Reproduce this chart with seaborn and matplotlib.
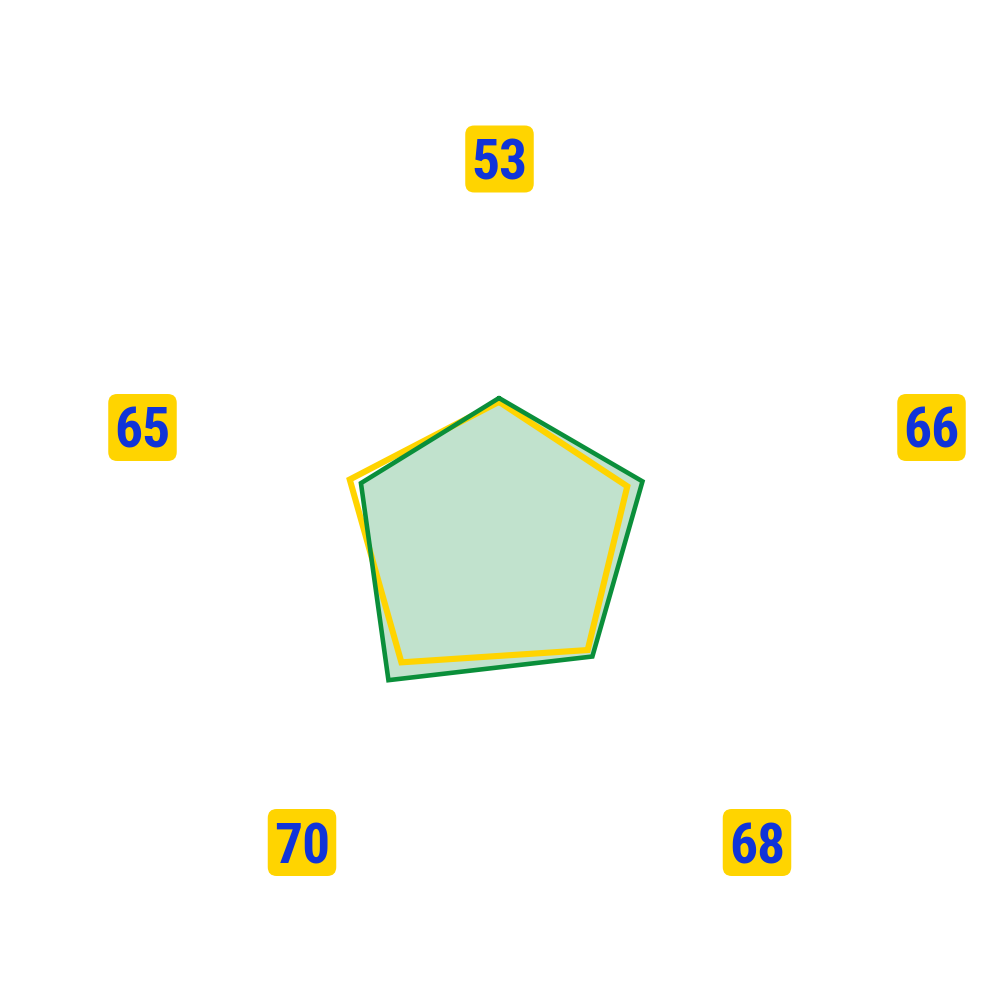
import numpy as np
import pandas as pd
import matplotlib
matplotlib.use("Agg")
import matplotlib.pyplot as plt
import seaborn as sns
from matplotlib import font_manager
from matplotlib.font_manager import FontProperties
from matplotlib.patches import FancyBboxPatch

# ---------------- data ----------------
categories = ["53", "66", "68", "70", "65"]
series_names = ["Yellow", "Green"]
yellow_values = [33.2, 35.5, 39.7, 43.7, 41.3]
green_values = [34.2, 39.7, 41.8, 49.5, 38.2]

# ---------------- style ----------------
YELLOW = "#FFD400"
GREEN = "#0A8F3A"
BLUE = "#1034D8"

sns.set_theme(style="white")
plt.rcParams["font.family"] = ["DejaVu Sans"]

# pick the narrowest bold font available
def pick_font():
    entries = font_manager.fontManager.ttflist
    prefs = [
        ("Roboto Condensed", None),
        ("Liberation Sans Narrow", None),
        ("DejaVu Sans", "Condensed"),
    ]
    for fam, key in prefs:
        for f in entries:
            if f.name != fam:
                continue
            if "Italic" in f.fname or "Oblique" in f.fname:
                continue
            if key is not None and key not in f.fname:
                continue
            if "Bold" in f.fname or f.weight in ("bold", 700):
                return FontProperties(fname=f.fname)
    return FontProperties(family="DejaVu Sans", weight="bold")

label_font = pick_font()

# ---------------- figure ----------------
fig = plt.figure(figsize=(10, 10), dpi=100)
ax = fig.add_axes([0.119, 0.092, 0.76, 0.76], projection="polar")
ax.set_theta_offset(np.pi / 2)
ax.set_theta_direction(-1)
ax.set_ylim(0, 100)

n = len(categories)
angles = np.linspace(0, 2 * np.pi, n, endpoint=False)

def closed_frame(values, name):
    th = list(angles) + [2 * np.pi]
    vals = list(values) + [values[0]]
    return pd.DataFrame({"theta": th, "value": vals, "series": name})

df_y = closed_frame(yellow_values, series_names[0])
df_g = closed_frame(green_values, series_names[1])

# green fill
ax.fill(df_g["theta"], df_g["value"], color=GREEN, alpha=0.25, linewidth=0, zorder=1)
# yellow outline
sns.lineplot(data=df_y, x="theta", y="value", sort=False, estimator=None,
             color=YELLOW, linewidth=4.4, ax=ax, zorder=2,
             solid_joinstyle="miter", legend=False)
# green outline
sns.lineplot(data=df_g, x="theta", y="value", sort=False, estimator=None,
             color=GREEN, linewidth=3.3, ax=ax, zorder=3,
             solid_joinstyle="miter", legend=False)

ax.axis("off")

# ---------------- category labels ----------------
label_centers = [(0.4995, 0.841), (0.9315, 0.5725), (0.757, 0.1575),
                 (0.302, 0.1575), (0.1425, 0.5725)]
box_w, box_h = 0.0685, 0.067
renderer = fig.canvas.get_renderer()
for cat, (cx, cy) in zip(categories, label_centers):
    box = FancyBboxPatch((cx - box_w / 2, cy - box_h / 2), box_w, box_h,
                         boxstyle="round,pad=0,rounding_size=0.009",
                         transform=fig.transFigure, facecolor=YELLOW,
                         edgecolor="none", zorder=5)
    fig.patches.append(box)
    t = fig.text(cx, cy, cat, ha="center", va="center_baseline",
                 color=BLUE, fontproperties=label_font, zorder=6)
    t.set_fontsize(48)
    bb = t.get_window_extent(renderer)
    if bb.width > 56:
        t.set_fontsize(48 * 56 / bb.width)

fig.savefig("out.png", dpi=100)
